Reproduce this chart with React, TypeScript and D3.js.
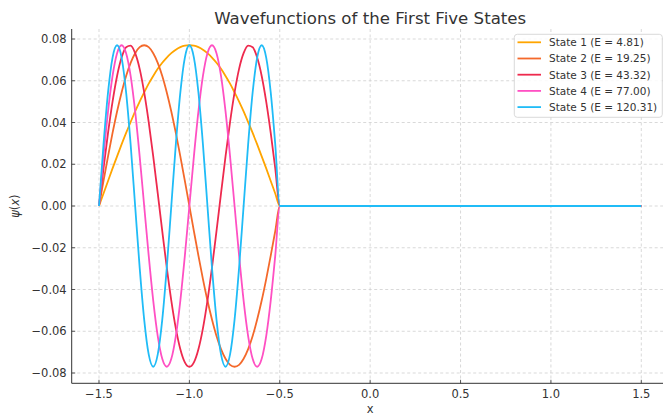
import React from "react";
import * as d3 from "d3";

// sample positions inside the well (x from -1.5 to -0.5)
const xGrid = [
  -1.5, -1.475, -1.45, -1.425, -1.4, -1.375, -1.35, -1.325, -1.3, -1.275,
  -1.25, -1.225, -1.2, -1.175, -1.15, -1.125, -1.1, -1.075, -1.05, -1.025,
  -1.0, -0.975, -0.95, -0.925, -0.9, -0.875, -0.85, -0.825, -0.8, -0.775,
  -0.75, -0.725, -0.7, -0.675, -0.65, -0.625, -0.6, -0.575, -0.55, -0.525, -0.5,
];
// flat part outside the well
const xTail = [-0.475, 1.5];
const yTail = [0, 0];

const state1 = [
  0, 0.006, 0.012, 0.018, 0.0238, 0.0295, 0.035, 0.0402, 0.0453, 0.05,
  0.0544, 0.0586, 0.0623, 0.0657, 0.0686, 0.0711, 0.0732, 0.0749, 0.0761, 0.0768,
  0.077, 0.0768, 0.0761, 0.0749, 0.0732, 0.0711, 0.0686, 0.0657, 0.0623, 0.0586,
  0.0544, 0.05, 0.0453, 0.0402, 0.035, 0.0295, 0.0238, 0.018, 0.012, 0.006, 0,
];
const state2 = [
  0, 0.012, 0.0238, 0.035, 0.0453, 0.0544, 0.0623, 0.0686, 0.0732, 0.0761,
  0.077, 0.0761, 0.0732, 0.0686, 0.0623, 0.0544, 0.0453, 0.035, 0.0238, 0.012,
  0, -0.012, -0.0238, -0.035, -0.0453, -0.0544, -0.0623, -0.0686, -0.0732, -0.0761,
  -0.077, -0.0761, -0.0732, -0.0686, -0.0623, -0.0544, -0.0453, -0.035, -0.0238, -0.012, 0,
];
const state3 = [
  0, 0.018, 0.035, 0.05, 0.0623, 0.0711, 0.0761, 0.0768, 0.0732, 0.0657,
  0.0544, 0.0402, 0.0238, 0.006, -0.012, -0.0295, -0.0453, -0.0586, -0.0686, -0.0749,
  -0.077, -0.0749, -0.0686, -0.0586, -0.0453, -0.0295, -0.012, 0.006, 0.0238, 0.0402,
  0.0544, 0.0657, 0.0732, 0.0768, 0.0761, 0.0711, 0.0623, 0.05, 0.035, 0.018, 0,
];
const state4 = [
  0, 0.0238, 0.0453, 0.0623, 0.0732, 0.077, 0.0732, 0.0623, 0.0453, 0.0238,
  0, -0.0238, -0.0453, -0.0623, -0.0732, -0.077, -0.0732, -0.0623, -0.0453, -0.0238,
  0, 0.0238, 0.0453, 0.0623, 0.0732, 0.077, 0.0732, 0.0623, 0.0453, 0.0238,
  0, -0.0238, -0.0453, -0.0623, -0.0732, -0.077, -0.0732, -0.0623, -0.0453, -0.0238, 0,
];
const state5 = [
  0, 0.0295, 0.0544, 0.0711, 0.077, 0.0711, 0.0544, 0.0295, 0, -0.0295,
  -0.0544, -0.0711, -0.077, -0.0711, -0.0544, -0.0295, 0, 0.0295, 0.0544, 0.0711,
  0.077, 0.0711, 0.0544, 0.0295, 0, -0.0295, -0.0544, -0.0711, -0.077, -0.0711,
  -0.0544, -0.0295, 0, 0.0295, 0.0544, 0.0711, 0.077, 0.0711, 0.0544, 0.0295, 0,
];

const stateNames = [
  "State 1 (E = 4.81)",
  "State 2 (E = 19.25)",
  "State 3 (E = 43.32)",
  "State 4 (E = 77.00)",
  "State 5 (E = 120.31)",
];
const stateValues = [state1, state2, state3, state4, state5];
const colors = ["#ffa500", "#f4692b", "#ee2a4e", "#ff50c3", "#20bcf7"];

const xTicks = [-1.5, -1.0, -0.5, 0.0, 0.5, 1.0, 1.5];
const xTickLabels = ["−1.5", "−1.0", "−0.5", "0.0", "0.5", "1.0", "1.5"];
const yTicks = [0.08, 0.06, 0.04, 0.02, 0.0, -0.02, -0.04, -0.06, -0.08];
const yTickLabels = ["0.08", "0.06", "0.04", "0.02", "0.00", "−0.02", "−0.04", "−0.06", "−0.08"];

const W = 663, H = 416;
const left = 71.7, right = 668.6, top = 29, bottom = 383.3;
const font = "DejaVu Sans, sans-serif";
const ink = "#333333";

export default function App() {
  const x = d3.scaleLinear().domain([-1.651, 1.651]).range([left, right]);
  const y = d3.scaleLinear().domain([-0.08, 0.08]).range([373, 39]);

  const line = d3.line<[number, number]>()
    .x(d => x(d[0]))
    .y(d => y(d[1]))
    .curve(d3.curveMonotoneX);

  const series = stateValues.map(vals => {
    const pts: [number, number][] = xGrid.map((xv, i) => [xv, vals[i]]);
    xTail.forEach((xv, i) => pts.push([xv, yTail[i]]));
    return pts;
  });

  const legendX = 514.3, legendY = 34.3;
  const rowGap = 16.2;

  return (
    <svg width={W} height={H} style={{ position: "absolute", left: 0, top: 0, background: "#fff" }}>
      <rect x={0} y={0} width={W} height={H} fill="#fff" />
      <defs>
        <clipPath id="plotclip">
          <rect x={left} y={top} width={right - left} height={bottom - top} />
        </clipPath>
      </defs>

      {/* grid */}
      <g stroke="#cfcfcf" strokeWidth={0.8} strokeDasharray="3,2.5">
        {xTicks.map(t => (
          <line key={"gx" + t} x1={x(t)} x2={x(t)} y1={top} y2={bottom} />
        ))}
        {yTicks.map(t => (
          <line key={"gy" + t} x1={left} x2={right} y1={y(t)} y2={y(t)} />
        ))}
      </g>

      {/* curves */}
      <g clipPath="url(#plotclip)" fill="none" strokeWidth={1.8} strokeLinejoin="round">
        {series.map((pts, i) => (
          <path key={i} d={line(pts) || ""} stroke={colors[i]} />
        ))}
      </g>

      {/* spines */}
      <line x1={left} x2={left} y1={top} y2={bottom} stroke={ink} strokeWidth={1} />
      <line x1={left} x2={right} y1={bottom} y2={bottom} stroke={ink} strokeWidth={1} />

      {/* x ticks */}
      {xTicks.map((t, i) => (
        <g key={"xt" + t}>
          <line x1={x(t)} x2={x(t)} y1={bottom} y2={bottom - 3.5} stroke={ink} strokeWidth={0.8} />
          <text x={x(t)} y={397.5} textAnchor="middle" fontFamily={font} fontSize={11.5} fill={ink}>
            {xTickLabels[i]}
          </text>
        </g>
      ))}

      {/* y ticks */}
      {yTicks.map((t, i) => (
        <g key={"yt" + t}>
          <line x1={left} x2={left + 3.5} y1={y(t)} y2={y(t)} stroke={ink} strokeWidth={0.8} />
          <text x={66.7} y={y(t) + 4.2} textAnchor="end" fontFamily={font} fontSize={11.5} fill={ink}>
            {yTickLabels[i]}
          </text>
        </g>
      ))}

      {/* axis labels */}
      <text x={(left + right) / 2} y={412.5} textAnchor="middle" fontFamily={font} fontSize={11.5} fill={ink}>
        x
      </text>
      <text
        transform={`translate(18.5, ${(top + bottom) / 2}) rotate(-90)`}
        textAnchor="middle"
        fontFamily={font}
        fontSize={11.5}
        fill={ink}
      >
        <tspan fontStyle="italic">ψ</tspan>(<tspan fontStyle="italic">x</tspan>)
      </text>

      {/* title */}
      <text x={(left + right) / 2} y={24} textAnchor="middle" fontFamily={font} fontSize={16.6} fill={ink}>
        Wavefunctions of the First Five States
      </text>

      {/* legend */}
      <rect
        x={legendX}
        y={legendY}
        width={148}
        height={83}
        rx={3}
        fill="#fff"
        fillOpacity={0.85}
        stroke="#d0d0d0"
        strokeWidth={0.8}
      />
      {stateNames.map((name, i) => {
        const cy = 42.3 + i * rowGap;
        return (
          <g key={name}>
            <line x1={517.5} x2={541} y1={cy} y2={cy} stroke={colors[i]} strokeWidth={1.8} />
            <text x={549} y={cy + 3.8} fontFamily={font} fontSize={10.5} fill={ink}>
              {name}
            </text>
          </g>
        );
      })}
    </svg>
  );
}
